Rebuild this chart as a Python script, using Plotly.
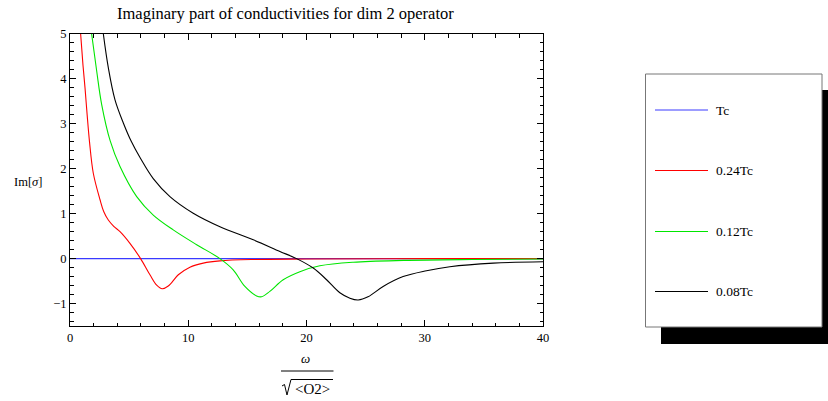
import plotly.graph_objects as go

# ---- data: Im[sigma] versus omega / sqrt(<O2>) ----
series_names = ["Tc", "0.24Tc", "0.12Tc", "0.08Tc"]
series_colors = ["#3a3aff", "#ff0000", "#00e600", "#000000"]

omega_tc = [0, 10, 20, 30, 40]
im_tc = [0, 0, 0, 0, 0]

omega_024 = [0.90, 1.10, 1.27, 1.45, 1.65, 1.97, 2.54, 2.85, 3.24, 3.7, 4.23, 5.07, 5.97,
             6.76, 7.33, 7.80, 8.31, 9.16, 10.14, 11.27, 12.68, 15.5, 20.0, 30.0, 40.0]
im_024 = [5.0, 4.3, 3.8, 3.2, 2.6, 1.90, 1.31, 1.05, 0.86, 0.72, 0.60, 0.34, 0.0,
          -0.36, -0.59, -0.67, -0.61, -0.36, -0.19, -0.10, -0.05, -0.02, -0.01, 0.0, 0.0]

omega_012 = [1.83, 2.26, 2.68, 3.4, 4.23, 5.64, 7.04, 8.73, 10.71, 12.68, 13.8,
             14.79, 15.78, 16.2, 16.9, 18.03, 19.44, 21.13, 23.95, 28.2, 34.0, 40.0]
im_012 = [5.0, 4.17, 3.43, 2.62, 2.05, 1.38, 0.97, 0.64, 0.31, 0.0, -0.25,
          -0.62, -0.83, -0.85, -0.73, -0.47, -0.29, -0.16, -0.08, -0.04, -0.02, -0.01]

omega_008 = [2.82, 3.24, 3.80, 4.51, 5.2, 5.92, 7.04, 8.45, 10.42, 12.68, 15.5,
             17.75, 19.16, 20.57, 21.7, 22.82, 23.67, 24.37, 25.2, 26.48, 28.17,
             30.15, 32.12, 35.8, 40.0]
im_008 = [5.0, 4.25, 3.54, 3.02, 2.60, 2.25, 1.78, 1.38, 1.01, 0.71, 0.42,
          0.16, 0.0, -0.21, -0.47, -0.76, -0.88, -0.92, -0.85, -0.62, -0.40,
          -0.27, -0.18, -0.10, -0.07]

x_major = [0, 10, 20, 30, 40]
y_major = [-1, 0, 1, 2, 3, 4, 5]

title_text = "Imaginary part of conductivities for dim 2 operator"

# ---- layout geometry (pixels) ----
W, H = 828, 401
ML, MR, MT, MB = 70, 285, 34, 75
PW, PH = W - ML - MR, H - MT - MB
FONT = "Liberation Serif"


def px(x):
    return (x - ML) / PW


def py(y):
    return (H - MB - y) / PH


fig = go.Figure()
curves = [(omega_tc, im_tc), (omega_024, im_024), (omega_012, im_012), (omega_008, im_008)]
widths = [1.4, 1.1, 1.1, 1.1]
for (xs, ys), name, color, w in zip(curves, series_names, series_colors, widths):
    fig.add_trace(go.Scatter(
        x=xs, y=ys, mode="lines", name=name, showlegend=False,
        line=dict(color=color, width=w, shape="spline", smoothing=1.0),
        hoverinfo="skip",
    ))

axis_common = dict(
    showline=True, linecolor="black", linewidth=1, mirror="ticks",
    ticks="inside", ticklen=6, tickwidth=1, tickcolor="black",
    showgrid=False, zeroline=False,
    tickfont=dict(family=FONT, size=12.5, color="black"),
)

fig.update_xaxes(
    range=[0, 40], tickmode="array", tickvals=x_major,
    minor=dict(ticks="inside", ticklen=3.5, tickcolor="black", dtick=2, tick0=0, showgrid=False),
    **axis_common,
)
fig.update_yaxes(
    range=[-1.5, 5], tickmode="array", tickvals=y_major,
    minor=dict(ticks="inside", ticklen=3.5, tickcolor="black", dtick=0.2, tick0=0, showgrid=False),
    **axis_common,
)

shapes = []
annotations = []

# title
annotations.append(dict(
    x=px(285), y=py(14), xref="paper", yref="paper", text=title_text,
    showarrow=False, xanchor="center", yanchor="middle",
    font=dict(family=FONT, size=16.5, color="black"),
))

# y axis label
annotations.append(dict(
    x=px(27.5), y=py(182), xref="paper", yref="paper", text="Im[<i>σ</i>]",
    showarrow=False, xanchor="center", yanchor="middle",
    font=dict(family=FONT, size=12.5, color="black"),
))

# x axis label: omega over sqrt(<O2>)
annotations.append(dict(
    x=px(305), y=py(358), xref="paper", yref="paper", text="<i>ω</i>",
    showarrow=False, xanchor="center", yanchor="middle",
    font=dict(family=FONT, size=13, color="black"),
))
shapes.append(dict(type="line", xref="paper", yref="paper",
                   x0=px(281), x1=px(333.5), y0=py(371), y1=py(371),
                   line=dict(color="black", width=1)))
# radical sign with its overbar
radical = [(282, 386), (284.5, 384.5), (287, 395), (291, 379.5), (333, 379.5)]
path = "M " + " L ".join(f"{px(a):.5f},{py(b):.5f}" for a, b in radical)
shapes.append(dict(type="path", xref="paper", yref="paper", path=path,
                   line=dict(color="black", width=1)))
annotations.append(dict(
    x=px(312), y=py(389), xref="paper", yref="paper", text="&lt;O2&gt;",
    showarrow=False, xanchor="center", yanchor="middle",
    font=dict(family=FONT, size=15, color="black"),
))

# legend: drop shadow, framed box, sample lines and labels
shapes.append(dict(type="rect", xref="paper", yref="paper",
                   x0=px(661), x1=px(828), y0=py(344), y1=py(90),
                   fillcolor="black", line=dict(width=0), layer="below"))
shapes.append(dict(type="rect", xref="paper", yref="paper",
                   x0=px(645.5), x1=px(822), y0=py(327), y1=py(74),
                   fillcolor="white", line=dict(color="#777777", width=1)))
legend_rows = [110, 170.5, 231.5, 291.5]
for name, color, row in zip(series_names, series_colors, legend_rows):
    shapes.append(dict(type="line", xref="paper", yref="paper",
                       x0=px(655), x1=px(708), y0=py(row), y1=py(row),
                       line=dict(color=color, width=1)))
    annotations.append(dict(
        x=px(714), y=py(row), xref="paper", yref="paper", text=name,
        showarrow=False, xanchor="left", yanchor="middle",
        font=dict(family=FONT, size=13.5, color="black"),
    ))

fig.update_layout(
    width=W, height=H,
    margin=dict(l=ML, r=MR, t=MT, b=MB),
    paper_bgcolor="white", plot_bgcolor="white",
    shapes=shapes, annotations=annotations,
    showlegend=False,
)

fig.write_html("out.html")
